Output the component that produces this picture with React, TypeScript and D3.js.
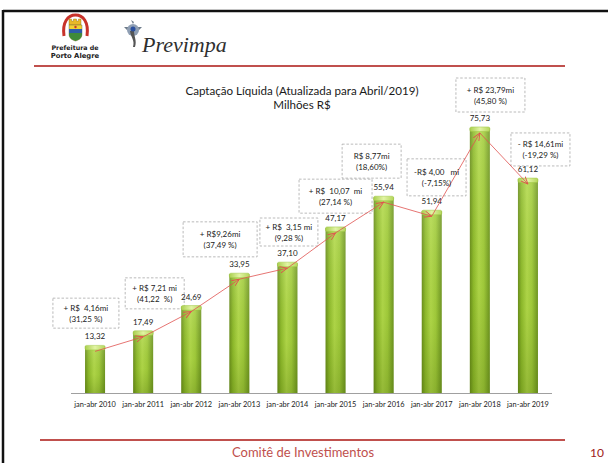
import React from "react";
import * as d3 from "d3";

const categories = [
  "jan-abr 2010", "jan-abr 2011", "jan-abr 2012", "jan-abr 2013", "jan-abr 2014",
  "jan-abr 2015", "jan-abr 2016", "jan-abr 2017", "jan-abr 2018", "jan-abr 2019",
];
const values = [13.32, 17.49, 24.69, 33.95, 37.1, 47.17, 55.94, 51.94, 75.73, 61.12];

const noteLine1 = [
  "+ R$  4,16mi", "+ R$ 7,21 mi", "+ R$9,26mi", "+ R$  3,15 mi", "+ R$  10,07  mi",
  "R$ 8,77mi", "-R$ 4,00   mi", "+ R$ 23,79mi", "- R$ 14,61mi",
];
const noteLine2 = [
  "(31,25 %)", "(41,22  %)", "(37,49 %)", "(9,28 %)", "(27,14 %)",
  "(18,60%)", "(-7,15%)", "(45,80 %)", "(-19,29 %)",
];
// annotation anchor: fractional category index (centre) and value level (top)
const noteIdx = [-0.19, 1.24, 2.6, 4.03, 5.0, 5.75, 7.1, 8.22, 9.26];
const noteTop = [27.1, 32.9, 48.9, 50.0, 61.1, 71.1, 66.9, 90.0, 74.3];
const noteW = [66, 59, 74, 58, 73, 59, 59, 69, 59];
const noteH = [30, 31, 35, 28, 34, 34, 37, 34, 33];

const FONT = "Lato, 'Open Sans', sans-serif";

export default function App() {
  const x = d3
    .scaleBand<string>()
    .domain(categories)
    .range([71, 552])
    .paddingInner(0.584)
    .paddingOuter(0.292);
  const y = d3.scaleLinear().domain([0, 80]).range([393, 113]);
  const step = x.step();
  const x0 = x.range()[0];
  const xc = (i: number) => x0 + step * (i + 0.5);
  const bw = x.bandwidth();
  const fmt = (v: number) => d3.format(".2f")(v).replace(".", ",");

  const pts = values.map((v, i) => [xc(i), y(v) + 5] as [number, number]);
  const line = d3.line();

  return (
    <svg
      width={608}
      height={463}
      style={{ position: "absolute", left: 0, top: 0, background: "#fff" }}
    >
      <defs>
        <linearGradient id="barGrad" x1="0" x2="1" y1="0" y2="0">
          <stop offset="0%" stopColor="#6a8e1c" />
          <stop offset="18%" stopColor="#8fbb2c" />
          <stop offset="45%" stopColor="#b2d94a" />
          <stop offset="70%" stopColor="#a2cc3c" />
          <stop offset="100%" stopColor="#6f9622" />
        </linearGradient>
        <linearGradient id="barShade" x1="0" x2="0" y1="0" y2="1">
          <stop offset="0%" stopColor="#ffffff" stopOpacity="0.12" />
          <stop offset="60%" stopColor="#4a6a00" stopOpacity="0.05" />
          <stop offset="100%" stopColor="#3d5a00" stopOpacity="0.25" />
        </linearGradient>
        <linearGradient id="capGrad" x1="0" x2="1" y1="0" y2="0">
          <stop offset="0%" stopColor="#a9cf4e" />
          <stop offset="50%" stopColor="#e2f4a4" />
          <stop offset="100%" stopColor="#b3d65a" />
        </linearGradient>
        <marker
          id="arr"
          viewBox="0 0 8 8"
          refX="7.5"
          refY="4"
          markerWidth="8"
          markerHeight="8"
          markerUnits="userSpaceOnUse"
          orient="auto"
        >
          <path d="M0,0.8 L7.5,4 L0,7.2" fill="none" stroke="#e0524f" strokeWidth="0.9" />
        </marker>
      </defs>

      {/* slide frame */}
      <line x1={3} y1={11} x2={608} y2={11} stroke="#111" strokeWidth={2.5} />
      <line x1={3} y1={10} x2={3} y2={463} stroke="#111" strokeWidth={2.5} />

      {/* Prefeitura logo */}
      <g>
        <path d="M64,36 C62,22 68,15 75.5,15 C83,15 89,22 87,36" fill="none" stroke="#c8322a" strokeWidth={3} />
        <path d="M69,19 h2.5 v2 h2 v-2 h3 v2 h2 v-2 h2.5 v6 h-12 z" fill="#e8b928" stroke="#8a6a10" strokeWidth={0.4} />
        <path d="M69,25 h13 v9 c0,4 -3,6 -6.5,7 c-3.5,-1 -6.5,-3 -6.5,-7 z" fill="#f1d230" stroke="#555" strokeWidth={0.4} />
        <rect x={69} y={29} width={13} height={4} fill="#2d5ba8" />
        <path d="M69,33 h13 v1 c0,4 -3,6 -6.5,7 c-3.5,-1 -6.5,-3 -6.5,-7 z" fill="#3f8a3a" />
        <circle cx={75.5} cy={27} r={1.2} fill="#c8322a" />
        <text x={75} y={50} textAnchor="middle" fontFamily="'DejaVu Sans', sans-serif" fontWeight="bold" fontSize={6.3} fill="#222">Prefeitura de</text>
        <text x={75} y={58} textAnchor="middle" fontFamily="'DejaVu Sans', sans-serif" fontWeight="bold" fontSize={6.8} fill="#222">Porto Alegre</text>
      </g>

      {/* Previmpa logo */}
      <g>
        <circle cx={133} cy={30} r={6} fill="#8f9fb4" />
        <path d="M127,30 l-3,-3 l4,0 z M139,30 l3,-3 l-4,0 z M133,24 l-2,-4 l3,2 z" fill="#6d7b8a" />
        <path d="M130,31 C131,38 135,40 133,47 L135,47 C137,40 134,37 134,31 z" fill="#555" />
        <circle cx={133} cy={29} r={2.5} fill="#2a4f9e" />
        <text x={142} y={52} fontFamily="'Liberation Serif', 'DejaVu Serif', serif" fontStyle="italic" fontSize={22} fill="#2f2f2f">Previmpa</text>
      </g>

      {/* header red line */}
      <line x1={34} y1={66} x2={565} y2={66} stroke="#c0504d" strokeWidth={2} />

      {/* title */}
      <text x={302} y={95} textAnchor="middle" fontFamily={FONT} fontSize={11.6} fill="#1a1a1a">
        Captação Líquida (Atualizada para Abril/2019)
      </text>
      <text x={302} y={109} textAnchor="middle" fontFamily={FONT} fontSize={11.6} fill="#1a1a1a">
        Milhões R$
      </text>

      {/* annotation boxes (outline) */}
      {noteLine1.map((_, i) => {
        const cx = xc(noteIdx[i]);
        const top = y(noteTop[i]);
        const w = noteW[i];
        const h = noteH[i];
        return (
          <rect
            key={"b" + i}
            x={cx - w / 2}
            y={top}
            width={w}
            height={h}
            fill="none"
            stroke="#a8a8a8"
            strokeWidth={0.8}
            strokeDasharray="2.5,1.8"
          />
        );
      })}

      {/* bars */}
      {values.map((v, i) => {
        const bx = x(categories[i])!;
        const by = y(v);
        const h = y(0) - by;
        return (
          <g key={categories[i]}>
            <rect x={bx} y={by} width={bw} height={h} fill="url(#barGrad)" />
            <rect x={bx} y={by} width={bw} height={h} fill="url(#barShade)" />
            <rect x={bx} y={by - 1} width={bw} height={4.5} rx={1.5} fill="url(#capGrad)" stroke="#9cc440" strokeWidth={0.5} />
            <text x={xc(i)} y={by - 7} textAnchor="middle" fontFamily={FONT} fontSize={8} fill="#222">
              {fmt(v)}
            </text>
          </g>
        );
      })}

      {/* axis */}
      <line x1={x.range()[0]} y1={y(0) + 0.5} x2={x.range()[1]} y2={y(0) + 0.5} stroke="#a0a0a0" strokeWidth={1} />
      {categories.map((c, i) => (
        <text key={c} x={xc(i)} y={407} textAnchor="middle" fontFamily={FONT} fontSize={7.4} fill="#222">
          {c}
        </text>
      ))}

      {/* arrows */}
      {pts.slice(1).map((p, i) => (
        <path
          key={i}
          d={line([pts[i], p])!}
          fill="none"
          stroke="#e0524f"
          strokeWidth={0.8}
          markerEnd="url(#arr)"
        />
      ))}

      {/* annotation texts */}
      {noteLine1.map((t, i) => {
        const cx = xc(noteIdx[i]);
        const top = y(noteTop[i]);
        const mid = top + noteH[i] / 2;
        return (
          <g key={"t" + i}>
            <text x={cx} y={mid - 2.5} textAnchor="middle" fontFamily={FONT} fontSize={8} fill="#222" style={{ whiteSpace: "pre" }}>
              {t}
            </text>
            <text x={cx} y={mid + 8.5} textAnchor="middle" fontFamily={FONT} fontSize={8} fill="#222" style={{ whiteSpace: "pre" }}>
              {noteLine2[i]}
            </text>
          </g>
        );
      })}

      {/* footer */}
      <line x1={40} y1={440} x2={565} y2={440} stroke="#c0504d" strokeWidth={2} />
      <text x={303} y={457} textAnchor="middle" fontFamily={FONT} fontSize={13} fill="#c0504d">
        Comitê de Investimentos
      </text>
      <text x={597} y={457} textAnchor="middle" fontFamily={FONT} fontSize={12} fill="#a02020">
        10
      </text>
    </svg>
  );
}
